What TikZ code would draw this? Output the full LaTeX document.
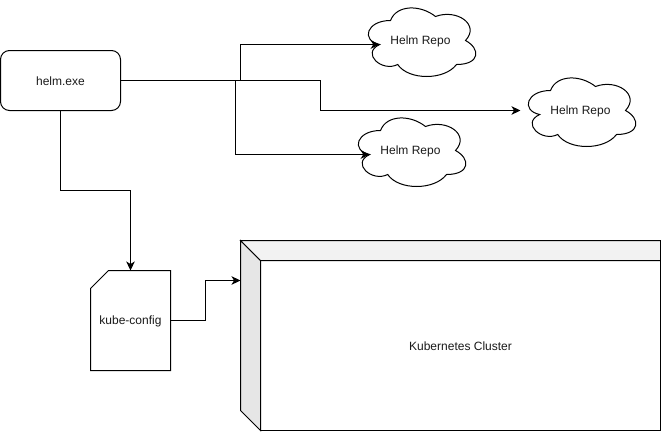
\documentclass[tikz,border=0pt]{standalone}
\usepackage{fontspec}
\setmainfont{Liberation Sans}
\usetikzlibrary{arrows.meta,calc}
\definecolor{inkc}{HTML}{000000}
\definecolor{textc}{HTML}{1A1A1A}
\definecolor{cubeside}{HTML}{E6E6E6}
\definecolor{cubetop}{HTML}{F2F2F2}
\tikzset{
  linew/.style={draw=inkc,line width=1pt},
  conn/.style={linew,-{Stealth[length=9pt,width=8.5pt,inset=2.5pt]}},
  label/.style={font=\fontsize{12}{14}\selectfont,text=textc,inner sep=0pt,yshift=-1pt},
  holder/.style={draw=none,inner sep=0pt,outer sep=0pt,anchor=north west},
  helmbox/.style={holder,linew,rounded corners=9pt,minimum width=120pt,minimum height=60pt},
}
\newcommand{\repocloud}[3]{%
  \begin{scope}[shift={(#2,#3)}]
    \draw[linew] (30,20)
      .. controls (6,20) and (0,40) .. (19.2,44)
      .. controls (0,52.8) and (21.6,72) .. (37.2,64)
      .. controls (48,80) and (84,80) .. (96,64)
      .. controls (120,64) and (120,48) .. (105,40)
      .. controls (120,24) and (96,8) .. (75,16)
      .. controls (60,4) and (36,4) .. (30,20) -- cycle;
    \coordinate (#1in) at (19.2,44);
    \coordinate (#1west) at (0,40);
    \node[label] (#1) at (60,40) {Helm Repo};
  \end{scope}}
\begin{document}
\begin{tikzpicture}[x=1pt,y=-1pt]
\useasboundingbox (0,0) rectangle (661,431);
\fill[white] (0,0) rectangle (661,431);

\node[helmbox] (helm) at (0.5,50.5) {};
\node[label] (helmtext) at (helm.center) {helm.exe};

\repocloud{repoa}{360.5}{0.5}
\repocloud{repob}{520.5}{70.5}
\repocloud{repoc}{350.5}{110.5}

% kube-config card
\node[holder,minimum width=80pt,minimum height=100pt] (kube) at (90.5,270.5) {};
\draw[linew] ($(kube.north west)+(18,0)$) -- (kube.north east) -- (kube.south east) -- (kube.south west) -- ($(kube.north west)+(0,18)$) -- cycle;
\node[label] (kubetext) at (kube.center) {kube-config};

% cluster cube
\node[holder,minimum width=400pt,minimum height=170pt] (front) at (260.5,260.5) {};
\coordinate (backnw) at (240.5,240.5);
\coordinate (backne) at (660.5,240.5);
\coordinate (backsw) at (240.5,410.5);
\coordinate (clusterin) at (240.5,280.5);
\draw[linew,fill=cubeside] (backnw) -- (front.north west) -- (front.south west) -- (backsw) -- cycle;
\draw[linew,fill=cubetop] (backnw) -- (backne) -- (front.north east) -- (front.north west) -- cycle;
\draw[linew] (front.north west) rectangle (front.south east);
\node[label] (cluster) at (front.center) {Kubernetes Cluster};

% connectors
\coordinate (trunka) at (240.5,80.5);
\coordinate (trunkb) at (320.5,80.5);
\coordinate (trunkc) at (235.5,80.5);
\coordinate (kubebend) at (205.5,320.5);
\coordinate (helmbend) at (60.5,190.5);

\draw[conn] (helm.east) -- (trunka) |- (repoain);
\draw[conn] (helm.east) -- (trunkb) |- (repobwest);
\draw[conn] (helm.east) -- (trunkc) |- (repocin);
\draw[conn] (helm.south) -- (helmbend) -| (kube.north);
\draw[conn] (kube.east) -- (kubebend) |- (clusterin);
\end{tikzpicture}
\end{document}
